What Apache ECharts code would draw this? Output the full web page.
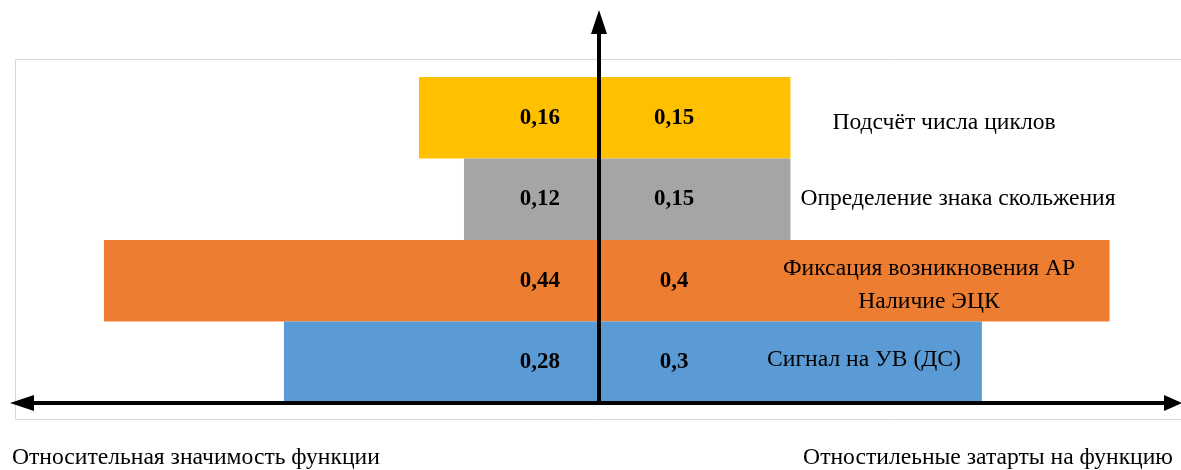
<!DOCTYPE html>
<html>
<head>
<meta charset="utf-8">
<script src="https://cdn.jsdelivr.net/npm/echarts@6/dist/echarts.min.js"></script>
<style>
  html, body { margin: 0; padding: 0; background: #ffffff; }
  #chart { width: 1181px; height: 470px; }
</style>
</head>
<body>
<div id="chart"></div>
<script>
// Functions of the device, top to bottom
const functions = [
  'Подсчёт числа циклов',
  'Определение знака скольжения',
  'Фиксация возникновения АР\nНаличие ЭЦК',
  'Сигнал на УВ (ДС)'
];
// Relative significance (left half) and relative costs (right half)
const significance = [0.16, 0.12, 0.44, 0.28];
const costs = [0.15, 0.15, 0.4, 0.3];
const barColors = ['#FFC000', '#A5A5A5', '#ED7D31', '#5B9BD5'];
const leftTitle = 'Относительная значимость функции';
const rightTitle = 'Отностилеьные затарты на функцию';

// Layout
const SERIF = "'Liberation Serif', 'Times New Roman', serif";
const AXIS_X = 599;          // vertical axis position
const AXIS_Y = 403;          // horizontal axis position
const nameCenters = [944, 958, 929, 864];   // centre x of each function name
const nameShift = [5, 0, 5, -2];            // vertical nudge of each name
const TEXT_FONT = '23.6px ' + SERIF;

const fmt = v => String(v).replace('.', ',');

const chart = echarts.init(document.getElementById('chart'), null, { renderer: 'canvas' });

const valueLabel = {
  show: true,
  color: '#000',
  fontFamily: SERIF,
  fontWeight: 'bold',
  fontSize: 23,
  formatter: p => fmt(p.value)
};

chart.setOption({
  animation: false,
  backgroundColor: '#ffffff',
  grid: [
    { left: 15, right: 1181 - AXIS_X, top: 77, bottom: 470 - AXIS_Y },
    { left: AXIS_X, right: 0, top: 77, bottom: 470 - AXIS_Y }
  ],
  xAxis: [
    { gridIndex: 0, type: 'value', inverse: true, min: 0, max: 0.519, show: false },
    { gridIndex: 1, type: 'value', min: 0, max: 0.456, show: false }
  ],
  yAxis: [
    { gridIndex: 0, type: 'category', data: functions, inverse: true, show: false },
    { gridIndex: 1, type: 'category', data: functions, inverse: true, show: false }
  ],
  series: [
    {
      name: 'significance',
      type: 'bar',
      xAxisIndex: 0, yAxisIndex: 0,
      barCategoryGap: 0,
      data: significance.map((v, i) => ({ value: v, itemStyle: { color: barColors[i] } })),
      label: Object.assign({}, valueLabel, { position: 'insideRight', distance: 39 })
    },
    {
      name: 'costs',
      type: 'bar',
      xAxisIndex: 1, yAxisIndex: 1,
      barCategoryGap: 0,
      data: costs.map((v, i) => ({ value: v, itemStyle: { color: barColors[i] } })),
      label: Object.assign({}, valueLabel, { position: [75, '50%'], align: 'center', verticalAlign: 'middle' })
    }
  ]
});

// Frame, arrowed axes, function names and axis titles
const g = [];
g.push({
  type: 'rect', z: 1, silent: true,
  shape: { x: 15.5, y: 59.5, width: 1180, height: 360 },
  style: { fill: 'none', stroke: '#d9d9d9', lineWidth: 1 }
});
// horizontal axis with arrows at both ends
g.push({
  type: 'line', z: 100,
  shape: { x1: 28, y1: AXIS_Y, x2: 1168, y2: AXIS_Y },
  style: { stroke: '#000', lineWidth: 4 }
});
g.push({
  type: 'polygon', z: 100,
  shape: { points: [[10, AXIS_Y], [34, AXIS_Y - 8], [34, AXIS_Y + 8]] },
  style: { fill: '#000' }
});
g.push({
  type: 'polygon', z: 100,
  shape: { points: [[1182, AXIS_Y], [1164, AXIS_Y - 8], [1164, AXIS_Y + 8]] },
  style: { fill: '#000' }
});
// vertical axis with arrow at the top
g.push({
  type: 'line', z: 100,
  shape: { x1: AXIS_X, y1: AXIS_Y + 2, x2: AXIS_X, y2: 28 },
  style: { stroke: '#000', lineWidth: 4 }
});
g.push({
  type: 'polygon', z: 100,
  shape: { points: [[AXIS_X, 10], [AXIS_X - 8, 34], [AXIS_X + 8, 34]] },
  style: { fill: '#000' }
});

functions.forEach((name, i) => {
  const y = chart.convertToPixel({ yAxisIndex: 1 }, name);
  g.push({
    type: 'text', z: 50,
    x: nameCenters[i], y: y + nameShift[i],
    style: {
      text: name,
      fill: '#000',
      font: TEXT_FONT,
      align: 'center',
      verticalAlign: 'middle',
      lineHeight: 33
    }
  });
});

g.push({
  type: 'text', z: 50, x: 12, y: 458,
  style: { text: leftTitle, fill: '#000', font: TEXT_FONT, align: 'left', verticalAlign: 'middle' }
});
g.push({
  type: 'text', z: 50, x: 1173, y: 458,
  style: { text: rightTitle, fill: '#000', font: TEXT_FONT, align: 'right', verticalAlign: 'middle' }
});

chart.setOption({ graphic: g });
</script>
</body>
</html>
